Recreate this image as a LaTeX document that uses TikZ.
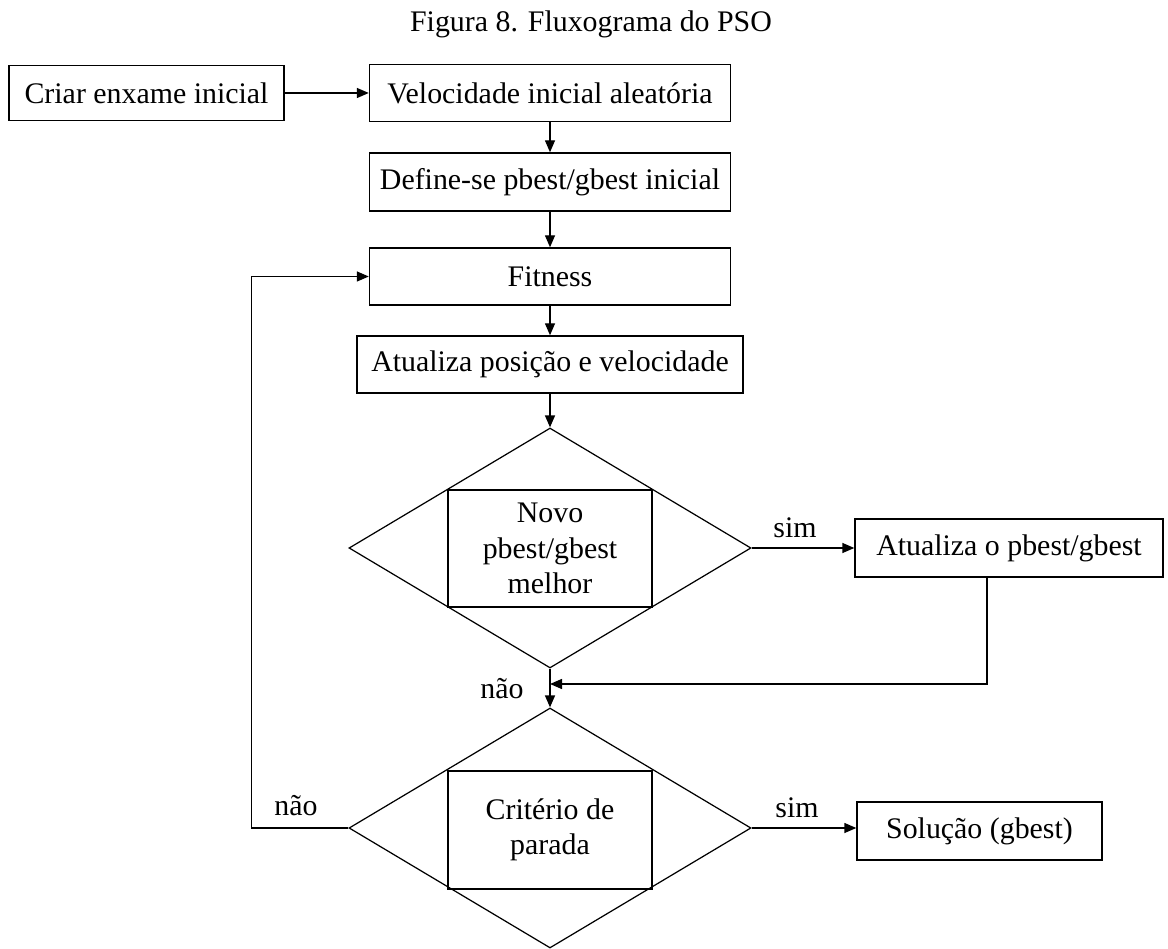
\documentclass[tikz,border=0pt]{standalone}
\usepackage{fontspec}
\setmainfont{Liberation Serif}
\usetikzlibrary{arrows.meta,shapes.geometric}

\tikzset{
  caixa/.style={draw,line width=0.8pt,inner sep=0pt,align=center,font=\fontsize{17}{20}\selectfont},
  losango/.style={diamond,draw,line width=0.7pt,inner sep=0pt,minimum width=8.04cm,minimum height=4.80cm},
  seta/.style={line width=0.8pt,-{Triangle[length=0.24cm,width=0.20cm]}},
  rotulo/.style={anchor=base,inner sep=0pt,font=\fontsize{17}{20}\selectfont}
}

\begin{document}
\begin{tikzpicture}[line join=miter]
  \useasboundingbox (0,0) rectangle (23.36,18.96);
  \node[rotulo] (titulo) at (11.82,18.32) {Figura 8. Fluxograma do PSO};
  % caixas de cima
  \node[caixa,minimum width=5.50cm,minimum height=1.10cm] (criar) at (2.93,17.10) {Criar enxame inicial};
  \node[caixa,minimum width=7.22cm,minimum height=1.14cm] (veloc) at (11.00,17.10) {Velocidade inicial aleatória};
  \node[caixa,minimum width=7.22cm,minimum height=1.16cm] (define) at (11.00,15.32) {Define-se pbest/gbest inicial};
  \node[caixa,minimum width=7.22cm,minimum height=1.14cm] (fit) at (11.00,13.43) {Fitness};
  \node[caixa,minimum width=7.72cm,minimum height=1.14cm] (atpos) at (11.00,11.67) {Atualiza posição e velocidade};
  % primeira decisão
  \node[losango] (novo) at (11.00,8.00) {};
  \node[caixa,minimum width=4.08cm,minimum height=2.34cm] (novotxt) at (11.00,7.99) {Novo\\pbest/gbest\\melhor};
  \node[caixa,minimum width=6.16cm,minimum height=1.16cm] (atbest) at (20.18,8.00) {Atualiza o pbest/gbest};
  % segunda decisão
  \node[losango] (parada) at (11.00,2.40) {};
  \node[caixa,minimum width=4.08cm,minimum height=2.36cm] (paradatxt) at (11.00,2.36) {Critério de\\parada};
  \node[caixa,minimum width=4.90cm,minimum height=1.16cm] (solucao) at (19.59,2.34) {Solução (gbest)};
  % rótulos
  \node[rotulo] (sim1) at (15.90,8.20) {sim};
  \node[rotulo] (nao1) at (10.04,5.00) {não};
  \node[rotulo] (nao2) at (5.92,2.66) {não};
  \node[rotulo] (sim2) at (15.94,2.62) {sim};
  \coordinate (junta) at (11.00,5.28);
  % setas
  \draw[seta] (criar.east) -- (veloc.west);
  \draw[seta] (veloc.south) -- (define.north);
  \draw[seta] (define.south) -- (fit.north);
  \draw[seta] (fit.south) -- (atpos.north);
  \draw[seta] (atpos.south) -- (novo.north);
  \draw[seta] (novo.east) -- (novo.east -| atbest.west);
  \draw[seta] (novo.south) -- (parada.north);
  \draw[seta] ([xshift=-0.44cm]atbest.south) |- (junta);
  \draw[seta] (parada.east) -- (parada.east -| solucao.west);
  \draw[seta] (parada.west) -- ++(-1.94,0) |- (fit.west);
\end{tikzpicture}
\end{document}
